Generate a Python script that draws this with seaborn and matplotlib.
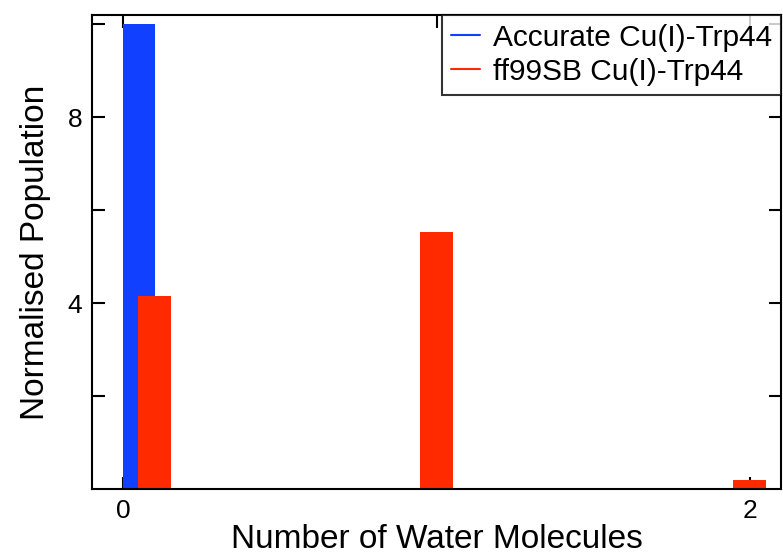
import matplotlib
matplotlib.use("Agg")
import matplotlib.pyplot as plt
from matplotlib.lines import Line2D
import seaborn as sns
import pandas as pd

# data
accurate_x = [0.05]
accurate_pop = [10.0]
ff99_x = [0.1, 1.0, 2.0]
ff99_pop = [4.16, 5.54, 0.2]

blue = "#1240ff"
red = "#ff2a00"

sns.set_style("ticks")
plt.rcParams["font.family"] = ["Liberation Sans", "DejaVu Sans"]
plt.rcParams["text.color"] = "black"
plt.rcParams["axes.labelcolor"] = "black"
plt.rcParams["xtick.color"] = "black"
plt.rcParams["ytick.color"] = "black"

fig = plt.figure(figsize=(7.83, 5.55), dpi=100)
ax = fig.add_axes([0.1175, 0.119, 0.88, 0.854])

df_acc = pd.DataFrame({"x": accurate_x, "pop": accurate_pop})
df_ff = pd.DataFrame({"x": ff99_x, "pop": ff99_pop})

sns.barplot(data=df_acc, x="x", y="pop", native_scale=True, width=0.105,
            color=blue, saturation=1, edgecolor="none", ax=ax)
sns.barplot(data=df_ff, x="x", y="pop", native_scale=True, width=0.107 / 0.9,
            color=red, saturation=1, edgecolor="none", ax=ax)

ax.set_xlim(-0.1, 2.1)
ax.set_ylim(0, 10.2)
ax.set_xticks([0, 1, 2])
ax.set_xticklabels(["0", "", "2"])
ax.set_yticks([2, 4, 6, 8, 10])
ax.set_yticklabels(["", "4", "", "8", ""])
ax.tick_params(direction="in", length=9, width=1.5, top=True, right=True,
               labelsize=19, pad=7)
for s in ax.spines.values():
    s.set_linewidth(1.5)
    s.set_color("black")

ax.set_xlabel("Number of Water Molecules", fontsize=24, labelpad=1)
ax.set_ylabel("Normalised Population", fontsize=24, labelpad=12)

handles = [Line2D([], [], color=blue, lw=1.5), Line2D([], [], color=red, lw=1.5)]
leg = ax.legend(handles, ["Accurate Cu(I)-Trp44", "ff99SB Cu(I)-Trp44"],
                loc="upper right", borderaxespad=0, fontsize=21.5, frameon=True,
                fancybox=False, handlelength=0.95, handletextpad=0.45,
                labelspacing=0.2, borderpad=0.3)
leg.get_frame().set_edgecolor("black")
leg.get_frame().set_linewidth(1.5)

fig.savefig("out.png", dpi=100)
